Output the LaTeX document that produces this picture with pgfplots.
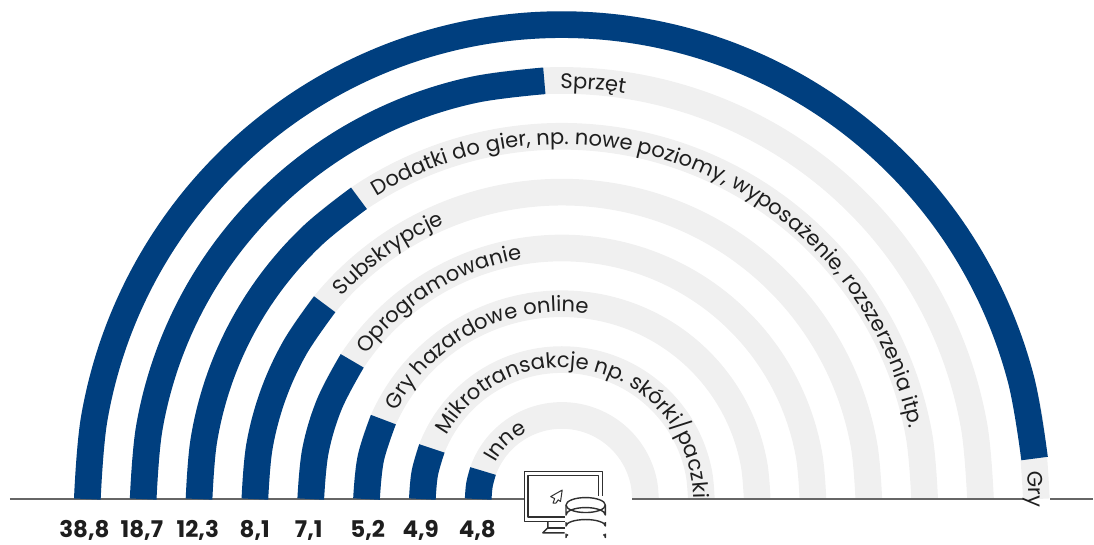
\documentclass[border=0pt]{standalone}
\usepackage{pgfplots}
\pgfplotsset{compat=1.18}
\usepackage{pgfplotstable}
\usepackage{fontspec}
\setmainfont{Poppins}
\usetikzlibrary{decorations.text}
\definecolor{ringblue}{HTML}{003F7F}
\definecolor{ringgray}{HTML}{F0F0F0}
\definecolor{basegray}{HTML}{666666}
\definecolor{inkdark}{HTML}{1E1E1E}
\definecolor{iconink}{HTML}{303030}

% angles of the full half rings
\pgfplotstableread{
angle
0
10
20
30
40
50
60
70
80
90
100
110
120
130
140
150
160
170
180
}\halfring

\newcommand\labelfont{\fontsize{21.1}{23}\selectfont\color{inkdark}}
% #1 start angle, #2 baseline radius, #3 text
\newcommand\ringlabel[3]{%
  \path[overlay,shift={(axis cs:0,0)},decorate,
    decoration={text along path,text={|\labelfont|#3}}]
    (#1:#2pt) arc[start angle=#1,end angle=-12,radius=#2pt];}
\newcommand\valuelabel[2]{%
  \node[anchor=base,font=\fontsize{23}{24}\selectfont\bfseries,text=inkdark]
    at (axis cs:#1,-38.8) {#2};}

\begin{document}
\begin{tikzpicture}
\begin{axis}[
  scale only axis,width=1094pt,height=542pt,
  xmin=-562.3,xmax=531.7,ymin=-42.5,ymax=499.5,
  hide axis,clip=false,
  every axis plot/.append style={no markers,smooth,tension=0.6,line cap=butt,line width=26.7pt},
]
\path (rel axis cs:0,0) rectangle (rel axis cs:1,1);
% background rings
\pgfplotsinvokeforeach{474.9,419,363.1,307.2,251.3,195.5,139.6,83.7}{
  \addplot[ringgray,data cs=polar] table[x index=0,y index=0,y expr=#1]{\halfring};
}
% baseline with gaps for the icon and the outer label
\addplot[basegray,line width=1.8pt,sharp plot] coordinates {(-552.3,0) (-37.3,0)};
\addplot[basegray,line width=1.8pt,sharp plot] coordinates {(70.4,0) (461.2,0)};
\addplot[basegray,line width=1.8pt,sharp plot] coordinates {(488.8,0) (531.7,0)};
% Gry 38,8
\addplot[ringblue,data cs=polar] coordinates {(180,474.9)(170.27,474.9)(160.54,474.9)(150.82,474.9)(141.09,474.9)(131.36,474.9)(121.63,474.9)(111.91,474.9)(102.18,474.9)(92.45,474.9)(82.72,474.9)(73,474.9)(63.27,474.9)(53.54,474.9)(43.81,474.9)(34.09,474.9)(24.36,474.9)(14.63,474.9)(4.9,474.9)};
% Sprzet 18,7
\addplot[ringblue,data cs=polar] coordinates {(180,419)(170.27,419)(160.53,419)(150.8,419)(141.07,419)(131.33,419)(121.6,419)(111.87,419)(102.13,419)(92.4,419)};
% Dodatki 12,3
\addplot[ringblue,data cs=polar] coordinates {(180,363.1)(170.67,363.1)(161.33,363.1)(152,363.1)(142.67,363.1)(133.33,363.1)(124,363.1)};
% Subskrypcje 8,1
\addplot[ringblue,data cs=polar] coordinates {(180,307.2)(170.15,307.2)(160.3,307.2)(150.45,307.2)(140.6,307.2)};
% Oprogramowanie 7,1
\addplot[ringblue,data cs=polar] coordinates {(180,251.3)(168.87,251.3)(157.73,251.3)(146.6,251.3)};
% Gry hazardowe online 5,2
\addplot[ringblue,data cs=polar] coordinates {(180,195.5)(168,195.5)(156,195.5)};
% Mikrotransakcje 4,9
\addplot[ringblue,data cs=polar] coordinates {(180,139.6)(169.35,139.6)(158.7,139.6)};
% Inne 4,8
\addplot[ringblue,data cs=polar] coordinates {(180,83.7)(170.2,83.7)(160.4,83.7)};

\ringlabel{3.4}{467}{Gry}
\ringlabel{90.2}{411}{Sprzęt}
\ringlabel{121.5}{355.1}{Dodatki do gier, np. nowe poziomy, wyposażenie, rozszerzenia itp.}
\ringlabel{137.4}{299.2}{Subskrypcje}
\ringlabel{143.5}{243.3}{Oprogramowanie}
\ringlabel{152}{187.5}{Gry hazardowe online}
\ringlabel{151}{131.6}{Mikrotransakcje np. skórki/paczki}
\ringlabel{151.5}{75.7}{Inne}

\valuelabel{-477.8}{38,8}
\valuelabel{-420.3}{18,7}
\valuelabel{-364.3}{12,3}
\valuelabel{-307.3}{8,1}
\valuelabel{-253.3}{7,1}
\valuelabel{-194.3}{5,2}
\valuelabel{-141.3}{4,9}
\valuelabel{-84.6}{4,8}

% monitor and database icon
\begin{scope}[shift={(axis cs:-562.3,499.5)},x=1pt,y=-1pt,draw=iconink,line width=1.4pt,line join=round]
  \draw (525,472) rectangle (603,522);
  \draw (528.6,476) rectangle (599,517.4);
  \draw (548.3,522) -- (548.3,528.3) -- (543.3,533.3) -- (565,533.3);
  \draw (548.3,528.3) -- (565,528.3);
  \draw[line width=1pt] (562.7,490.5) -- (551.2,497) -- (555.2,499) -- (553.5,503.5) -- (556.5,503.5) -- (558.7,500.3) -- (561,502) -- cycle;
  \fill[white] (565,496) rectangle (608,541.5);
  \draw (566.5,505.5) arc[x radius=19.7,y radius=7.5,start angle=180,end angle=-180];
  \draw (566.5,505.5) -- (566.5,515.5) arc[x radius=19.7,y radius=7.5,start angle=180,end angle=360] -- (605.9,505.5);
  \draw (566.5,522.5) -- (566.5,526.5) arc[x radius=19.7,y radius=6.5,start angle=180,end angle=360] -- (605.9,522.5);
  \draw (566.5,534) -- (566.5,538) arc[x radius=2.5,y radius=3,start angle=180,end angle=260];
  \draw (605.9,534) -- (605.9,538) arc[x radius=2.5,y radius=3,start angle=0,end angle=-80];
\end{scope}
\end{axis}
\end{tikzpicture}
\end{document}
